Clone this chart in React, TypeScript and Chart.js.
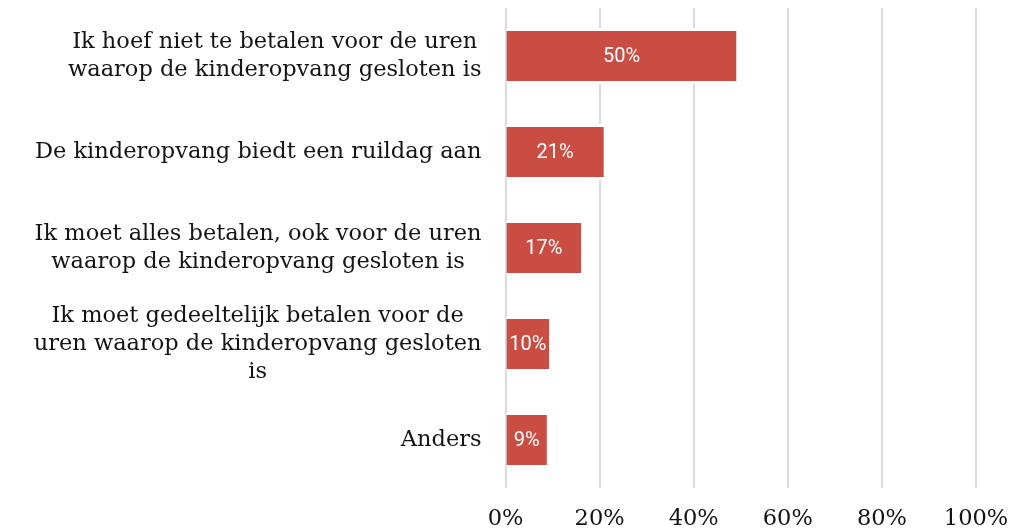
import React, { useEffect, useRef } from "react";
import { Chart, registerables } from "chart.js";

Chart.register(...registerables);

const categories: string[][] = [
  ["Ik hoef niet te betalen voor de uren", "waarop de kinderopvang gesloten is"],
  ["De kinderopvang biedt een ruildag aan"],
  ["Ik moet alles betalen, ook voor de uren", "waarop de kinderopvang gesloten is"],
  ["Ik moet gedeeltelijk betalen voor de", "uren waarop de kinderopvang gesloten", "is"],
  ["Anders"],
];

// bar lengths (percent)
const values = [49.1, 20.9, 16.1, 9.3, 8.8];
// labels printed inside the bars
const valueLabels = ["50%", "21%", "17%", "10%", "9%"];

const xTicks = [0, 20, 40, 60, 80, 100];

const BAR_COLOR = "#CA4D44";
const GRID_COLOR = "#D9D9D9";
const TEXT_COLOR = "#141414";
const SERIF = '"DejaVu Serif", serif';

const labelPlugin = {
  id: "customLabels",
  afterDatasetsDraw(chart: any) {
    const ctx = chart.ctx as CanvasRenderingContext2D;
    const meta = chart.getDatasetMeta(0);
    ctx.save();
    ctx.fillStyle = "#FFFFFF";
    ctx.font = '20px Roboto, sans-serif';
    ctx.textAlign = "center";
    ctx.textBaseline = "middle";
    meta.data.forEach((bar: any, i: number) => {
      const { x, y, base } = bar.getProps(["x", "y", "base"], true);
      ctx.fillText(valueLabels[i], (x + base) / 2, y + 1);
    });

    const yScale = chart.scales.y;
    const right = yScale.right - 24;
    ctx.fillStyle = TEXT_COLOR;
    ctx.font = `22.5px ${SERIF}`;
    const lh = 28;
    categories.forEach((lines, i) => {
      const w = Math.max(...lines.map((l) => ctx.measureText(l).width));
      const cx = right - w / 2;
      const cy = yScale.getPixelForValue(i);
      lines.forEach((l, j) => {
        ctx.fillText(l, cx, cy + (j - (lines.length - 1) / 2) * lh);
      });
    });
    ctx.restore();
  },
};

export default function App() {
  const ref = useRef<HTMLCanvasElement | null>(null);

  useEffect(() => {
    if (!ref.current) return;
    const chart = new Chart(ref.current, {
      type: "bar",
      data: {
        labels: categories.map((c) => c.join(" ")),
        datasets: [
          {
            data: values,
            backgroundColor: BAR_COLOR,
            borderColor: "#FFFFFF",
            borderWidth: { top: 3, bottom: 3, left: 0, right: 0 },
            borderSkipped: false,
            categoryPercentage: 1,
            barPercentage: 0.583,
          },
        ],
      },
      options: {
        indexAxis: "y",
        animation: false,
        responsive: false,
        maintainAspectRatio: false,
        layout: { padding: { top: 8, right: 57, bottom: 0, left: 0 } },
        plugins: {
          legend: { display: false },
          tooltip: { enabled: false },
        },
        scales: {
          x: {
            min: 0,
            max: 100,
            afterBuildTicks: (scale: any) => {
              scale.ticks = xTicks.map((v) => ({ value: v }));
            },
            afterFit: (scale: any) => {
              scale.height = 42;
            },
            grid: {
              color: GRID_COLOR,
              lineWidth: 2,
              drawTicks: false,
            },
            border: { display: false },
            ticks: {
              padding: 18,
              color: TEXT_COLOR,
              font: { family: SERIF, size: 22.5 },
              callback: (v: any) => `${v}%`,
            },
          },
          y: {
            afterFit: (scale: any) => {
              scale.width = 505.5;
            },
            grid: { display: false, drawTicks: false },
            border: { display: false },
            ticks: { display: false },
          },
        },
      },
      plugins: [labelPlugin],
    });
    return () => chart.destroy();
  }, []);

  return (
    <div style={{ position: "absolute", left: 0, top: 0, width: 1033, height: 530 }}>
      <canvas ref={ref} width={1033} height={530} />
    </div>
  );
}
